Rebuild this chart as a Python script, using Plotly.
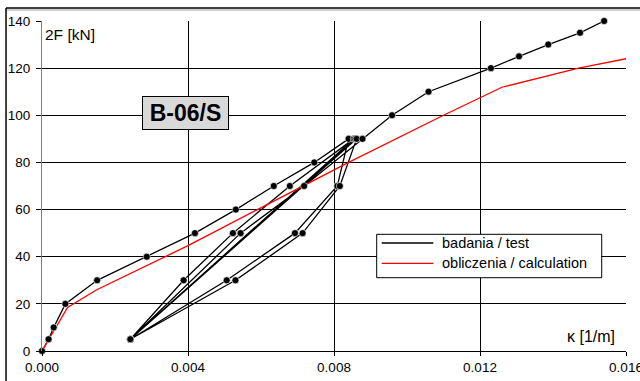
import plotly.graph_objects as go

# ---- data ----
test_kappa = [0.0, 0.00018, 0.00032, 0.00064, 0.00151, 0.00287, 0.00419, 0.00531, 0.00635, 0.00746, 0.00840,
              0.00809, 0.00693, 0.00506, 0.00242,
              0.00388, 0.00523, 0.00679, 0.00854,
              0.00242, 0.00858,
              0.00242, 0.00862,
              0.00816, 0.00714, 0.00530, 0.00242,
              0.00544, 0.00718, 0.00878,
              0.00959, 0.01059, 0.01230, 0.01307, 0.01387, 0.01474, 0.01540]
test_F = [0, 5, 10, 20, 30, 40, 50, 60, 70, 80, 90,
          70, 50, 30, 5,
          30, 50, 70, 90,
          5, 90,
          5, 90,
          70, 50, 30, 5,
          50, 70, 90,
          100, 110, 120, 125, 130, 135, 140]

calc_kappa = [0.0, 0.0007, 0.0015, 0.0040, 0.0059, 0.0084, 0.0110, 0.0126, 0.0147, 0.0161]
calc_F = [0, 18.5, 26, 44.7, 60, 80, 100, 111.9, 120, 124.3]

x_ticks = [0.000, 0.004, 0.008, 0.012, 0.016]
x_tick_labels = ["0.000", "0.004", "0.008", "0.012", "0.016"]
y_ticks = [0, 20, 40, 60, 80, 100, 120, 140]

series_names = ["badania / test", "obliczenia / calculation"]
series_colors = ["black", "#ff0000"]

FONT = "Liberation Sans, Arial, sans-serif"

fig = go.Figure()
fig.add_trace(go.Scatter(x=test_kappa, y=test_F, mode="lines", name=series_names[0],
                         line=dict(color=series_colors[0], width=1.3), showlegend=False))
fig.add_trace(go.Scatter(x=calc_kappa, y=calc_F, mode="lines", name=series_names[1],
                         line=dict(color=series_colors[1], width=1.3), showlegend=False))
fig.add_trace(go.Scatter(x=test_kappa, y=test_F, mode="markers", showlegend=False, cliponaxis=False,
                         marker=dict(color="black", size=7, line=dict(color="white", width=0.6))))

# legend drawn as a framed box (paper coordinates)
lg_x0, lg_x1, lg_y0, lg_y1 = 0.5731, 0.9584, 0.2221, 0.3536
item_y = [0.3273, 0.2658]
shapes = [
    dict(type="rect", xref="paper", yref="paper", x0=lg_x0, x1=lg_x1, y0=lg_y0, y1=lg_y1,
         line=dict(color="black", width=1), fillcolor="white", layer="above"),
]
annotations = []
for name, col, yy in zip(series_names, series_colors, item_y):
    shapes.append(dict(type="line", xref="paper", yref="paper", x0=0.5817, x1=0.6700,
                       y0=yy, y1=yy, line=dict(color=col, width=1.3), layer="above"))
    annotations.append(dict(text=name, xref="paper", yref="paper", x=0.6815, y=yy,
                            xanchor="left", yanchor="middle", showarrow=False,
                            font=dict(size=14.5)))

shapes += [
    dict(type="line", xref="paper", yref="paper", x0=-0.0616, x1=1.1, y0=1.0394, y1=1.0394,
         line=dict(color="black", width=1.5)),
    dict(type="line", xref="paper", yref="paper", x0=-0.0616, x1=1.1, y0=1.0333, y1=1.0333,
         line=dict(color="#a0a0a0", width=1)),
    dict(type="line", xref="paper", yref="paper", x0=-0.0616, x1=-0.0616, y0=1.0394, y1=-0.1,
         line=dict(color="black", width=1.5)),
]

annotations += [
    dict(text="2F [kN]", xref="paper", yref="paper", x=0.0017, y=0.9576,
         xanchor="left", yanchor="middle", showarrow=False, font=dict(size=15.5)),
    dict(text="κ [1/m]", xref="paper", yref="paper", x=0.984, y=0.0433,
         xanchor="right", yanchor="middle", showarrow=False, font=dict(size=16)),
    dict(text="<b>B-06/S</b>", xref="paper", yref="paper", x=0.2452, y=0.7221,
         xanchor="center", yanchor="middle", showarrow=False,
         font=dict(size=23), bgcolor="#d9d9d9", bordercolor="black", borderwidth=1,
         borderpad=3, width=79, height=26),
]

fig.update_layout(
    width=640, height=381,
    margin=dict(l=42, r=14, t=21, b=30),
    paper_bgcolor="white", plot_bgcolor="white",
    font=dict(family=FONT, size=13.5, color="black"),
    showlegend=False,
    xaxis=dict(range=[0, 0.016], tickvals=x_ticks, ticktext=x_tick_labels,
               showgrid=True, gridcolor="black", gridwidth=1,
               ticks="outside", ticklen=4, tickcolor="black",
               showline=True, linecolor="black", linewidth=1,
               zeroline=False, fixedrange=True, automargin=False,
               ticklabeloverflow="allow"),
    yaxis=dict(range=[0, 140], tickvals=y_ticks,
               showgrid=True, gridcolor="black", gridwidth=1,
               ticks="outside", ticklen=5, tickcolor="black",
               showline=True, linecolor="#808080", linewidth=1,
               zeroline=False, fixedrange=True, automargin=False,
               ticklabelstandoff=3, ticklabeloverflow="allow"),
    annotations=annotations,
    shapes=shapes,
)

fig.write_html("out.html", config={"displayModeBar": False},
               post_script="document.body.style.margin='0';document.body.style.overflow='hidden';")
